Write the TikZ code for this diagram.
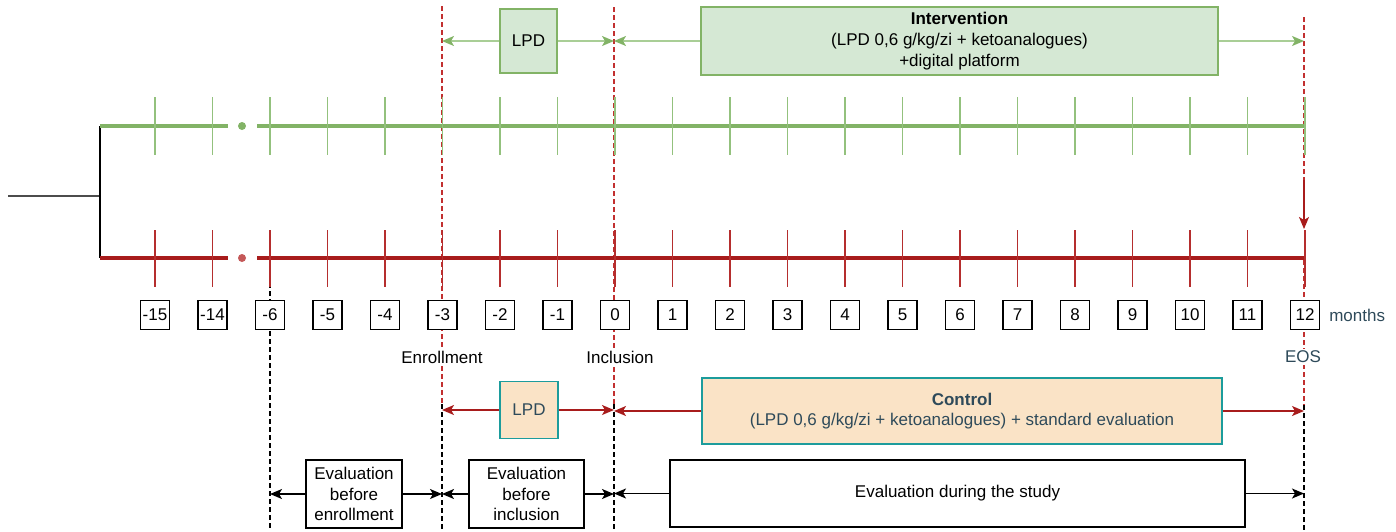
\documentclass[tikz,border=0pt]{standalone}
\usepackage{fontspec}
\setmainfont{Liberation Sans}
\usetikzlibrary{arrows.meta, positioning, calc}

\definecolor{grnline}{HTML}{82B366}
\definecolor{grntick}{HTML}{93C17D}
\definecolor{grnarrow}{HTML}{A9CE96}
\definecolor{grnfill}{HTML}{D5E8D4}
\definecolor{redline}{HTML}{A81C1C}
\definecolor{redtick}{HTML}{B52E2E}
\definecolor{reddash}{HTML}{C23030}
\definecolor{peachfill}{HTML}{FAE3C6}
\definecolor{tealborder}{HTML}{1C9C9C}
\definecolor{slate}{HTML}{2E4A5A}

\tikzset{
    month/.style={draw, line width=0.75pt, fill=white, inner sep=1pt,
        minimum width=14.5pt, minimum height=14.5pt},
    milestone/.style={fill=white, inner sep=1pt},
    gbox/.style={draw=grnline, fill=grnfill, line width=0.75pt, align=center, inner sep=1pt},
    pbox/.style={draw=tealborder, fill=peachfill, line width=0.75pt, align=center,
        text=slate, inner sep=1pt},
    evalbox/.style={draw, line width=0.75pt, fill=white, align=center, inner sep=1pt},
    garrow/.style={grnarrow, line width=0.75pt,
        -{Stealth[length=6pt, width=5pt, inset=1.5pt, color=grnline]}},
    rarrow/.style={redline, line width=0.75pt,
        -{Stealth[length=6pt, width=5pt, inset=1.5pt]}},
    barrow/.style={black, line width=0.75pt,
        -{Stealth[length=6pt, width=5pt, inset=1.5pt]}},
    reddashed/.style={reddash, line width=0.6pt, dash pattern=on 2.5pt off 1.5pt},
    blkdashed/.style={black, line width=0.6pt, dash pattern=on 2.5pt off 1.5pt},
}

\begin{document}
\begin{tikzpicture}[x=0.5pt, y=-0.5pt, font=\fontsize{8.5}{10.3}\selectfont]
    \useasboundingbox (0,0) rectangle (1396,531);

    % reference lines
    \coordinate (cPre) at (270,0);
    \coordinate (cEnr) at (442,0);
    \coordinate (cInc) at (614,0);
    \coordinate (cEos) at (1304,0);

    \draw[blkdashed] (270,283) -- (270,531);
    \draw[reddashed] (442,6) -- (442,404);
    \draw[blkdashed] (442,404) -- (442,531);
    \draw[reddashed] (614,7) -- (614,404);
    \draw[blkdashed] (614,404) -- (614,531);
    \draw[reddashed] (1304,17) -- (1304,180);
    \draw[reddashed] (1304,260) -- (1304,405);
    \draw[blkdashed] (1304,405) -- (1304,531);

    % branches
    \draw[black!70, line width=0.6pt] (8,196) -- (100,196);
    \draw[black, line width=0.6pt] (100,126) -- (100,258);

    \draw[grnline, line width=2pt] (100,126) -- (228,126);
    \draw[grnline, line width=2pt] (257,126) -- (1304,126);
    \fill[grnline] (242,126) circle (2pt);
    \draw[redline, line width=2pt] (100,258) -- (228,258);
    \draw[redline, line width=2pt] (257,258) -- (1304,258);
    \fill[redtick!80] (242,258) circle (2pt);

    % ticks and months
    \foreach \m [count=\i from 0] in {-15,-14,-6,-5,-4,-3,-2,-1,0,1,2,3,4,5,6,7,8,9,10,11,12} {
        \pgfmathsetmacro\tx{155+57.5*\i}
        \draw[grntick, line width=0.75pt] (\tx,97) -- (\tx,155);
        \draw[redtick, line width=0.75pt] (\tx,230) -- (\tx,287);
        \node[month] (m\i) at (\tx,315) {\m};
    }
    \node[text=slate, right=1pt of m20] (unit) {months};

    \node[milestone] (enroll) at (442,357) {Enrollment};
    \node[milestone] (inclusion) at (620,357) {Inclusion};
    \node[milestone, text=slate] (eos) at (1303,357) {EOS};

    \draw[rarrow] (1304,180) -- (1304,229);

    % intervention arm
    \node[gbox, minimum width=28.5pt, minimum height=32pt] (lpdg) at (528.5,41) {LPD};
    \node[gbox, minimum width=258.5pt, minimum height=34pt] (intv) at (959.5,41)
        {\textbf{Intervention}\\(LPD 0,6 g/kg/zi + ketoanalogues)\\+digital platform};
    \draw[garrow] (lpdg.west) -- (lpdg.west -| cEnr);
    \draw[garrow] (lpdg.east) -- (lpdg.east -| cInc);
    \draw[garrow] (intv.west) -- (intv.west -| cInc);
    \draw[garrow] (intv.east) -- (intv.east -| cEos);

    % control arm
    \node[pbox, minimum width=29pt, minimum height=28.5pt] (lpdc) at (529,410) {LPD};
    \node[pbox, minimum width=260pt, minimum height=33pt] (ctrl) at (962,411)
        {\textbf{Control}\\(LPD 0,6 g/kg/zi + ketoanalogues) + standard evaluation};
    \draw[rarrow] (lpdc.west) -- (lpdc.west -| cEnr);
    \draw[rarrow] (lpdc.east) -- (lpdc.east -| cInc);
    \draw[rarrow] (ctrl.west) -- (ctrl.west -| cInc);
    \draw[rarrow] (ctrl.east) -- (ctrl.east -| cEos);

    % evaluations
    \node[evalbox, minimum width=48pt, minimum height=34pt] (evenr) at (354,494)
        {Evaluation\\before\\enrollment};
    \node[evalbox, minimum width=57.5pt, minimum height=34pt] (evinc) at (526.5,494)
        {Evaluation\\before\\inclusion};
    \node[evalbox, minimum width=287.5pt, minimum height=33.5pt] (evstudy) at (957.5,493.5)
        {Evaluation during the study};
    \draw[barrow] (evenr.west) -- (evenr.west -| cPre);
    \draw[barrow] (evenr.east) -- (evenr.east -| cEnr);
    \draw[barrow] (evinc.west) -- (evinc.west -| cEnr);
    \draw[barrow] (evinc.east) -- (evinc.east -| cInc);
    \draw[barrow] (evstudy.west) -- (evstudy.west -| cInc);
    \draw[barrow] (evstudy.east) -- (evstudy.east -| cEos);
\end{tikzpicture}
\end{document}
